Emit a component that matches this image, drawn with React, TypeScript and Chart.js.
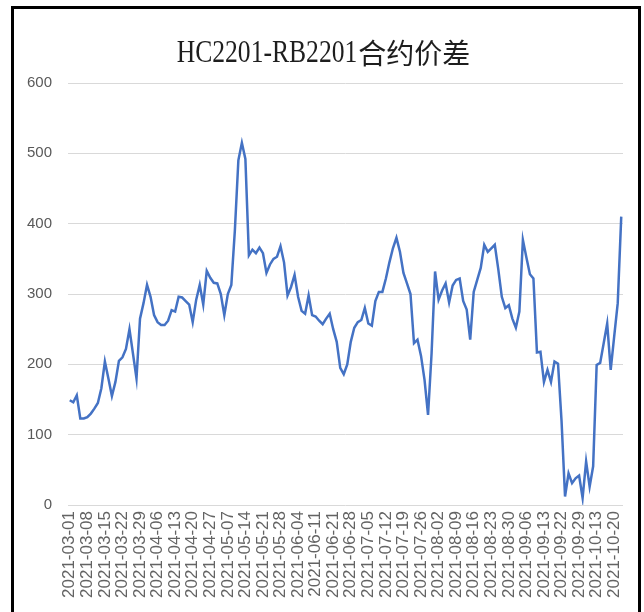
import React, { useEffect, useRef } from "react";
import { Chart, registerables } from "chart.js";

Chart.register(...registerables);

const titleLatin = "HC2201-RB2201";
const titleCjk = "合约价差";

const dates: string[] = [
  "2021-03-01","2021-03-02","2021-03-03","2021-03-04","2021-03-05",
  "2021-03-08","2021-03-09","2021-03-10","2021-03-11","2021-03-12",
  "2021-03-15","2021-03-16","2021-03-17","2021-03-18","2021-03-19",
  "2021-03-22","2021-03-23","2021-03-24","2021-03-25","2021-03-26",
  "2021-03-29","2021-03-30","2021-03-31","2021-04-01","2021-04-02",
  "2021-04-06","2021-04-07","2021-04-08","2021-04-09","2021-04-12",
  "2021-04-13","2021-04-14","2021-04-15","2021-04-16","2021-04-19",
  "2021-04-20","2021-04-21","2021-04-22","2021-04-23","2021-04-26",
  "2021-04-27","2021-04-28","2021-04-29","2021-04-30","2021-05-06",
  "2021-05-07","2021-05-10","2021-05-11","2021-05-12","2021-05-13",
  "2021-05-14","2021-05-17","2021-05-18","2021-05-19","2021-05-20",
  "2021-05-21","2021-05-24","2021-05-25","2021-05-26","2021-05-27",
  "2021-05-28","2021-05-31","2021-06-01","2021-06-02","2021-06-03",
  "2021-06-04","2021-06-07","2021-06-08","2021-06-09","2021-06-10",
  "2021-06-11","2021-06-15","2021-06-16","2021-06-17","2021-06-18",
  "2021-06-21","2021-06-22","2021-06-23","2021-06-24","2021-06-25",
  "2021-06-28","2021-06-29","2021-06-30","2021-07-01","2021-07-02",
  "2021-07-05","2021-07-06","2021-07-07","2021-07-08","2021-07-09",
  "2021-07-12","2021-07-13","2021-07-14","2021-07-15","2021-07-16",
  "2021-07-19","2021-07-20","2021-07-21","2021-07-22","2021-07-23",
  "2021-07-26","2021-07-27","2021-07-28","2021-07-29","2021-07-30",
  "2021-08-02","2021-08-03","2021-08-04","2021-08-05","2021-08-06",
  "2021-08-09","2021-08-10","2021-08-11","2021-08-12","2021-08-13",
  "2021-08-16","2021-08-17","2021-08-18","2021-08-19","2021-08-20",
  "2021-08-23","2021-08-24","2021-08-25","2021-08-26","2021-08-27",
  "2021-08-30","2021-08-31","2021-09-01","2021-09-02","2021-09-03",
  "2021-09-06","2021-09-07","2021-09-08","2021-09-09","2021-09-10",
  "2021-09-13","2021-09-14","2021-09-15","2021-09-16","2021-09-17",
  "2021-09-22","2021-09-23","2021-09-24","2021-09-27","2021-09-28",
  "2021-09-29","2021-09-30","2021-10-08","2021-10-11","2021-10-12",
  "2021-10-13","2021-10-14","2021-10-15","2021-10-18","2021-10-19",
  "2021-10-20","2021-10-21","2021-10-22",
];

const spread: number[] = [
  149, 146, 156, 123, 123, 125, 130, 137, 145, 166,
  204, 180, 155, 175, 205, 210, 222, 250, 215, 180,
  265, 287, 313, 296, 270, 260, 256, 256, 262, 277,
  275, 296, 295, 290, 285, 260, 292, 313, 285, 333,
  323, 316, 315, 300, 270, 300, 313, 390, 490, 515,
  492, 355, 363, 358, 366, 358, 330, 342, 350, 353,
  368, 345, 298, 310, 327, 296, 276, 272, 298, 270,
  268, 262, 257, 265, 272, 250, 232, 195, 186, 200,
  232, 252, 260, 263, 280, 258, 255, 290, 303, 303,
  322, 345, 365, 380, 360, 330, 315, 300, 230, 235,
  212, 178, 128, 215, 332, 292, 305, 315, 288, 312,
  320, 322, 290, 278, 235, 303, 320, 337, 370, 360,
  365, 370, 335, 296, 280, 284, 265, 252, 275, 377,
  352, 328, 322, 217, 218, 175, 192, 175, 204, 201,
  120, 12, 45, 31, 38, 42, 10, 62, 26, 55,
  199, 202, 230, 258, 192, 240, 287, 410,
];

const yMin = 0;
const yMax = 600;
const yStep = 100;
const labelEvery = 5;

const titlePlugin = {
  id: "condensedTitle",
  afterDraw(chart: any) {
    const ctx = chart.ctx as CanvasRenderingContext2D;
    const sx = 0.8;
    const baseline = 62;
    ctx.save();
    ctx.fillStyle = "#1e1e1e";
    ctx.textBaseline = "alphabetic";
    ctx.textAlign = "left";
    ctx.font = "32px 'Liberation Serif', serif";
    const wLatin = ctx.measureText(titleLatin).width * sx;
    ctx.font = "28px 'Noto Sans CJK SC', sans-serif";
    const wCjk = ctx.measureText(titleCjk).width;
    const start = 323 - (wLatin + wCjk) / 2;
    ctx.save();
    ctx.translate(start, baseline);
    ctx.scale(sx, 1);
    ctx.font = "32px 'Liberation Serif', serif";
    ctx.fillText(titleLatin, 0, 0);
    ctx.restore();
    ctx.font = "28px 'Noto Sans CJK SC', sans-serif";
    ctx.fillText(titleCjk, start + wLatin + 1, baseline + 2);
    ctx.restore();
  },
};

export default function App() {
  const canvasRef = useRef<HTMLCanvasElement | null>(null);

  useEffect(() => {
    const canvas = canvasRef.current;
    if (!canvas) return;
    const chart = new Chart(canvas, {
      type: "line",
      data: {
        labels: dates,
        datasets: [
          {
            label: titleLatin + titleCjk,
            data: spread,
            borderColor: "#4472C4",
            borderWidth: 2.5,
            pointRadius: 0,
            tension: 0,
            fill: false,
          },
        ],
      },
      options: {
        animation: false,
        responsive: false,
        layout: { padding: { left: 0, right: 21, top: 83, bottom: 0 } },
        plugins: {
          legend: { display: false },
          tooltip: { enabled: false },
          title: { display: false },
        },
        scales: {
          x: {
            type: "category",
            offset: true,
            grid: { display: false, drawTicks: false },
            border: { display: false },
            ticks: {
              autoSkip: false,
              minRotation: 90,
              maxRotation: 90,
              padding: 6,
              color: "#636363",
              font: { family: "'Liberation Sans', sans-serif", size: 17 },
              callback: (_v: any, i: number) => (i % labelEvery === 0 ? dates[i] : ""),
            },
            afterFit: (scale: any) => {
              scale.height = 107;
              scale.paddingLeft = 0;
              scale.paddingRight = 0;
            },
          },
          y: {
            min: yMin,
            max: yMax,
            grid: { color: "#d9d9d9", lineWidth: 1, drawTicks: false },
            border: { display: false },
            ticks: {
              stepSize: yStep,
              padding: 16,
              color: "#595959",
              font: { family: "'Liberation Sans', sans-serif", size: 15 },
            },
            afterFit: (scale: any) => {
              scale.width = 68;
            },
          },
        },
      },
      plugins: [titlePlugin],
    });
    return () => chart.destroy();
  }, []);

  return (
    <div style={{ position: "absolute", left: 0, top: 0, width: 644, height: 612, overflow: "hidden", background: "#fff" }}>
      <canvas ref={canvasRef} width={644} height={612} style={{ position: "absolute", left: 0, top: 0, width: 644, height: 612 }} />
      <div
        style={{
          position: "absolute",
          left: 11,
          top: 6,
          width: 630,
          height: 700,
          boxSizing: "border-box",
          border: "3px solid #000",
          pointerEvents: "none",
        }}
      />
    </div>
  );
}
